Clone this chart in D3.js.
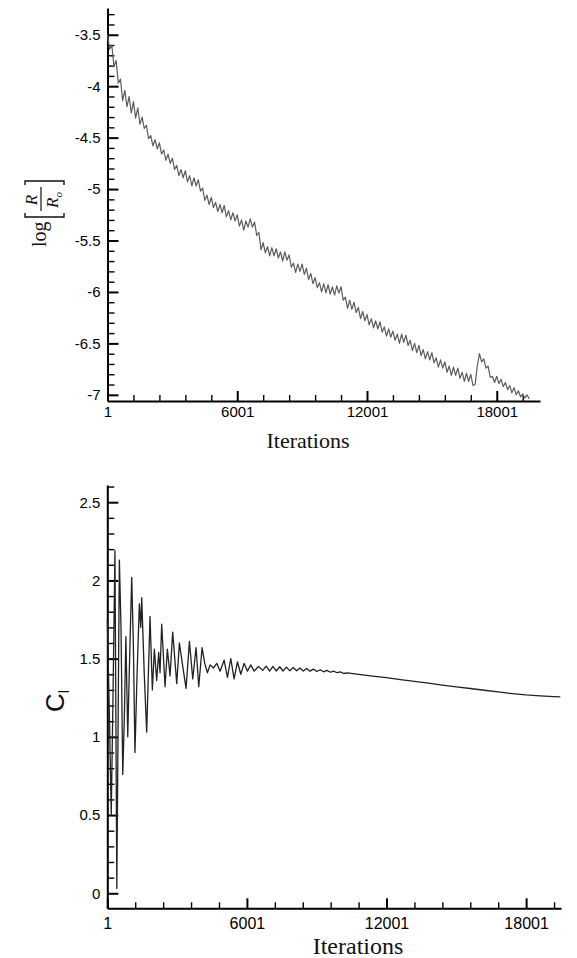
<!DOCTYPE html>
<html>
<head>
<meta charset="utf-8">
<script src="https://cdn.jsdelivr.net/npm/d3@7"></script>
<style>
  body { margin: 0; background: #fff; }
  svg { display: block; }
  .tick text { font-family: "Liberation Sans", Arial, sans-serif; fill: #000; }
</style>
</head>
<body>
<svg id="chart" width="577" height="958"></svg>
<script>
// residual history log(R/Ro), one sample every 100 iterations from iteration 1
const resStep = 100;
const residual = [
  -3.50, -3.64, -3.60, -3.81, -3.75, -3.97, -3.93, -4.14, -4.04, -4.20,
  -4.10, -4.26, -4.15, -4.31, -4.21, -4.37, -4.30, -4.41, -4.38, -4.51,
  -4.48, -4.58, -4.52, -4.61, -4.55, -4.66, -4.62, -4.72, -4.66, -4.75,
  -4.70, -4.81, -4.77, -4.87, -4.81, -4.89, -4.82, -4.93, -4.87, -4.97,
  -4.89, -4.97, -4.91, -5.02, -4.99, -5.11, -5.06, -5.15, -5.08, -5.18,
  -5.13, -5.22, -5.15, -5.23, -5.16, -5.27, -5.21, -5.30, -5.23, -5.31,
  -5.25, -5.36, -5.30, -5.40, -5.31, -5.37, -5.29, -5.37, -5.32, -5.45,
  -5.42, -5.59, -5.52, -5.62, -5.56, -5.65, -5.57, -5.65, -5.58, -5.67,
  -5.61, -5.70, -5.61, -5.69, -5.64, -5.76, -5.72, -5.81, -5.73, -5.80,
  -5.73, -5.83, -5.77, -5.88, -5.82, -5.92, -5.86, -5.96, -5.91, -6.00,
  -5.92, -6.01, -5.93, -6.02, -5.95, -6.03, -5.94, -6.01, -5.95, -6.08,
  -6.05, -6.16, -6.08, -6.17, -6.10, -6.20, -6.15, -6.26, -6.19, -6.28,
  -6.22, -6.32, -6.26, -6.35, -6.28, -6.36, -6.29, -6.39, -6.34, -6.43,
  -6.36, -6.44, -6.38, -6.47, -6.41, -6.50, -6.41, -6.49, -6.42, -6.52,
  -6.47, -6.57, -6.50, -6.59, -6.52, -6.62, -6.56, -6.65, -6.58, -6.66,
  -6.59, -6.69, -6.64, -6.73, -6.66, -6.74, -6.68, -6.78, -6.72, -6.81,
  -6.73, -6.81, -6.74, -6.84, -6.78, -6.87, -6.79, -6.87, -6.80, -6.91,
  -6.90, -6.72, -6.60, -6.68, -6.65, -6.74, -6.72, -6.83, -6.82, -6.88,
  -6.82, -6.89, -6.85, -6.92, -6.88, -6.95, -6.91, -6.98, -6.93, -7.00,
  -6.96, -7.02, -6.99, -7.03, -7.00, -7.04
];

// lift coefficient history
const clIter = [
  1, 90, 170, 250, 330, 410, 520, 590, 665, 730,
  800, 880, 960, 1050, 1120, 1190, 1280, 1380, 1440, 1480,
  1590, 1694, 1837, 1938, 2024, 2124, 2210, 2267, 2339, 2483,
  2583, 2698, 2812, 2985, 3099, 3243, 3386, 3530, 3673, 3816,
  3931, 4074, 4190, 4304, 4419, 4562, 4705, 4849, 5021, 5164,
  5308, 5451, 5594, 5738, 5881, 6024, 6168, 6311, 6498, 6684,
  6830, 6975, 7120, 7265, 7410, 7555, 7700, 7845, 7990, 8135,
  8280, 8425, 8570, 8715, 8860, 9005, 9150, 9295, 9440, 9585,
  9730, 9875, 10020, 10165, 10310, 10800, 11400, 12000, 12600, 13200,
  13800, 14400, 15000, 15600, 16200, 16800, 17400, 18000, 18600, 19200,
  19470
];
const clValue = [
  1.75, 1.15, 0.50, 1.30, 2.19, 0.03, 2.13, 1.70, 0.76, 1.10,
  1.64, 1.00, 1.50, 2.02, 1.60, 0.90, 1.40, 1.85, 1.70, 1.89,
  1.40, 1.03, 1.77, 1.30, 1.56, 1.36, 1.54, 1.41, 1.72, 1.32,
  1.56, 1.39, 1.67, 1.34, 1.60, 1.45, 1.31, 1.61, 1.37, 1.57,
  1.32, 1.57, 1.47, 1.41, 1.46, 1.44, 1.47, 1.42, 1.49, 1.38,
  1.50, 1.37, 1.48, 1.40, 1.47, 1.42, 1.46, 1.42, 1.45, 1.425,
  1.452, 1.420, 1.450, 1.421, 1.448, 1.421, 1.446, 1.422, 1.443, 1.422,
  1.440, 1.421, 1.437, 1.420, 1.433, 1.418, 1.429, 1.416, 1.425, 1.413,
  1.420, 1.410, 1.415, 1.405, 1.409, 1.399, 1.388, 1.378, 1.366, 1.355,
  1.343, 1.331, 1.320, 1.309, 1.298, 1.287, 1.277, 1.268, 1.262, 1.257,
  1.255
];

const iterMajor = [1, 6001, 12001, 18001];
const resMajor = [-7, -6.5, -6, -5.5, -5, -4.5, -4, -3.5];
const clMajor = [0, 0.5, 1, 1.5, 2, 2.5];

const resData = residual.map((v, i) => ({ it: 1 + i * resStep, val: v }));
const clData = clIter.map((it, i) => ({ it: it, val: clValue[i] }));

const round1 = v => Math.round(v * 10) / 10;
const svg = d3.select("#chart");

function drawPanel(p) {
  const x = d3.scaleLinear().domain(p.xDomain).range(p.xRange);
  const y = d3.scaleLinear().domain(p.yDomain).range(p.yRange);
  const g = svg.append("g");

  // minor ticks first, under the major ones
  const xMinor = d3.range(1201, p.xDomain[1], 1200).filter(v => !iterMajor.includes(v));
  const yMinor = d3.range(Math.ceil(p.yDomain[0] * 10), Math.floor(p.yDomain[1] * 10) + 1)
    .map(v => round1(v / 10))
    .filter(v => !p.yMajor.includes(v));

  g.append("g")
    .attr("transform", `translate(0,${p.yRange[0]})`)
    .call(d3.axisBottom(x).tickValues(xMinor).tickSize(-6).tickSizeOuter(0).tickFormat(""))
    .call(a => a.select(".domain").remove())
    .selectAll("line").attr("stroke-width", 1.4);
  g.append("g")
    .attr("transform", `translate(${p.xRange[0]},0)`)
    .call(d3.axisLeft(y).tickValues(yMinor).tickSize(-7).tickSizeOuter(0).tickFormat(""))
    .call(a => a.select(".domain").remove())
    .selectAll("line").attr("stroke-width", 1.4);

  const xAxis = g.append("g")
    .attr("transform", `translate(0,${p.yRange[0]})`)
    .call(d3.axisBottom(x).tickValues(iterMajor).tickSize(-10).tickSizeOuter(0)
      .tickPadding(p.xPad).tickFormat(d => String(d)));
  xAxis.selectAll("text").style("font-size", p.xFont + "px");

  const yAxis = g.append("g")
    .attr("transform", `translate(${p.xRange[0]},0)`)
    .call(d3.axisLeft(y).tickValues(p.yMajor).tickSize(-11).tickSizeOuter(0)
      .tickPadding(7).tickFormat(d => String(d)));
  yAxis.selectAll("text").style("font-size", "15px");

  [xAxis, yAxis].forEach(a => {
    a.select(".domain").attr("stroke-width", 2);
    a.selectAll(".tick line").attr("stroke-width", 2);
  });

  const line = d3.line().x(d => x(d.it)).y(d => y(d.val));
  g.append("path")
    .datum(p.data)
    .attr("fill", "none")
    .attr("stroke", p.color)
    .attr("stroke-width", p.width)
    .attr("stroke-linejoin", "round")
    .attr("d", line);

  g.append("text")
    .attr("x", p.titleX)
    .attr("y", p.titleY)
    .attr("text-anchor", "middle")
    .style("font-family", "'Liberation Serif', 'Times New Roman', serif")
    .style("font-size", p.titleFont + "px")
    .style("fill", "#111")
    .text("Iterations");
  return g;
}

drawPanel({
  data: resData,
  xDomain: [1, 20001], xRange: [107.5, 540],
  yDomain: [-7.06, -3.24], yRange: [401, 8],
  yMajor: resMajor, xPad: 5, xFont: 15,
  color: "#5c5c5c", width: 1.2,
  titleX: 308, titleY: 448, titleFont: 22
});

drawPanel({
  data: clData,
  xDomain: [1, 19500], xRange: [107.3, 561],
  yDomain: [-0.096, 2.61], yRange: [908.3, 485],
  yMajor: clMajor, xPad: 9, xFont: 16,
  color: "#222", width: 1.3,
  titleX: 358, titleY: 954, titleFont: 24
});

// y label of the upper panel: log [R / Ro], written bottom-to-top
const lab = svg.append("g")
  .attr("transform", "translate(45,212) rotate(-90)")
  .style("font-family", "'Liberation Serif', 'Times New Roman', serif")
  .style("fill", "#111");
lab.append("text").attr("x", -35).attr("y", 1).style("font-size", "20px").text("log");
lab.append("path")
  .attr("d", "M-1,-20 H-5 V19 H-1 M27,-20 H31 V19 H27")
  .attr("fill", "none").attr("stroke", "#111").attr("stroke-width", 1.4);
lab.append("line").attr("x1", 1).attr("x2", 25).attr("y1", -4).attr("y2", -4)
  .attr("stroke", "#111").attr("stroke-width", 1.2);
lab.append("text").attr("x", 12).attr("y", -8).attr("text-anchor", "middle")
  .style("font-size", "17px").style("font-style", "italic").text("R");
const den = lab.append("text").attr("x", 12).attr("y", 13).attr("text-anchor", "middle")
  .style("font-size", "17px").style("font-style", "italic");
den.append("tspan").text("R");
den.append("tspan").attr("dy", 4).style("font-size", "11px").text("o");

// y label of the lower panel: C_l
const cl = svg.append("text")
  .attr("transform", "translate(64,712) rotate(-90)")
  .style("font-family", "'Liberation Sans', Arial, sans-serif")
  .style("font-size", "26px")
  .style("fill", "#111");
cl.append("tspan").text("C");
cl.append("tspan").attr("dy", 5).style("font-size", "14px").text("l");
</script>
</body>
</html>
